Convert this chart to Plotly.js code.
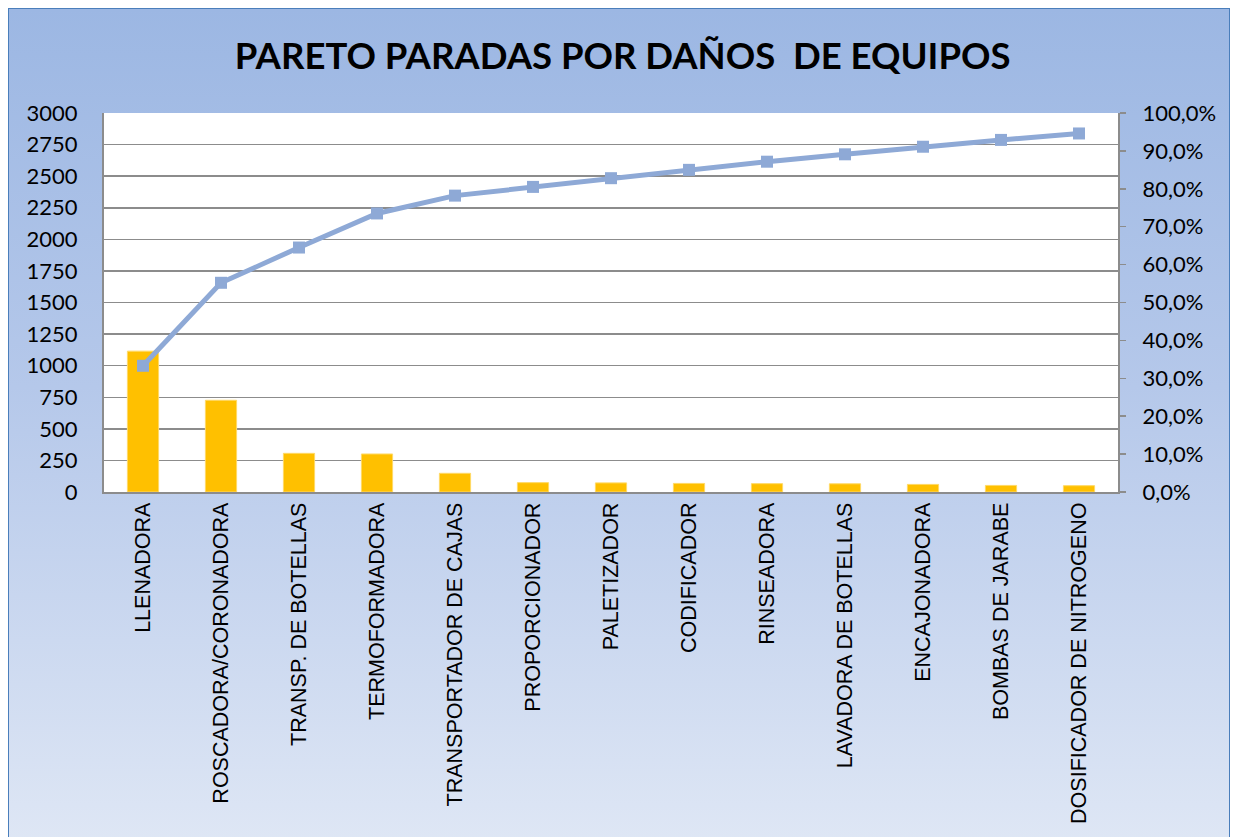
<!DOCTYPE html>
<html><head><meta charset="utf-8">
<script src="https://cdn.plot.ly/plotly-3.0.1.min.js"></script>
<style>
html,body{margin:0;padding:0;background:#fff;width:1238px;height:837px;overflow:hidden;}
#bg{position:absolute;left:8px;top:8px;width:1220px;height:840px;border:1px solid #4a7ebb;
background:linear-gradient(to bottom,#9cb7e3 0%,#b5c8ea 45%,#dfe7f5 100%);}
#chart{position:absolute;left:0;top:0;width:1238px;height:837px;}
</style></head>
<body><div id="bg"></div><div id="chart"></div>
<script>
const categories = ["LLENADORA","ROSCADORA/CORONADORA","TRANSP. DE BOTELLAS","TERMOFORMADORA","TRANSPORTADOR DE CAJAS","PROPORCIONADOR","PALETIZADOR","CODIFICADOR","RINSEADORA","LAVADORA DE BOTELLAS","ENCAJONADORA","BOMBAS DE JARABE","DOSIFICADOR DE NITROGENO"];
const paradas = [1115, 726, 306, 301, 148, 74, 72, 68, 66, 65, 60, 52, 50];
const acumulado = [0.333, 0.552, 0.645, 0.735, 0.782, 0.805, 0.828, 0.850, 0.8715, 0.891, 0.911, 0.929, 0.946];
const leftTicks = [0,250,500,750,1000,1250,1500,1750,2000,2250,2500,2750,3000];

const traces = [
 {type:'bar', x:categories, y:paradas, marker:{color:'#FFC000', line:{color:'#FFD966', width:1}}, hoverinfo:'x+y'},
 {type:'scatter', mode:'lines+markers', x:categories, y:acumulado, yaxis:'y2',
  line:{color:'#8EA9D6', width:5}, marker:{symbol:'square', size:12, color:'#8EA9D6'}}
];
const tickFont = {family:'Lato, "Open Sans", sans-serif', size:22, color:'#000'};
const layout = {
 width:1238, height:837,
 paper_bgcolor:'rgba(0,0,0,0)', plot_bgcolor:'#ffffff',
 margin:{l:104, r:120, t:113, b:345},
 showlegend:false,
 separators:',.',
 bargap:0.6,
 title:{text:'<b>PARETO PARADAS POR DAÑOS  DE EQUIPOS</b>', x:0.503, xanchor:'center', y:0.933, yanchor:'middle', yref:'container',
   font:{family:'Lato, "Open Sans", sans-serif', size:36.5, color:'#000'}},
 xaxis:{type:'category', range:[-0.5,12.5], tickangle:-90, tickfont:{family:'"Liberation Sans", Arial, sans-serif', size:21.5, color:'#000'},
   showline:true, linecolor:'#8c8c8c', linewidth:2, ticks:'', showgrid:false, automargin:false},
 yaxis:{range:[0,3000], tickvals:leftTicks, ticktext:leftTicks.map(String), tickfont:tickFont,
   showgrid:true, gridcolor:'#8c8c8c', gridwidth:1.5, showline:true, linecolor:'#8c8c8c', linewidth:2,
   ticks:'', ticklen:0, ticklabelstandoff:20, zeroline:false, automargin:false},
 yaxis2:{overlaying:'y', side:'right', range:[0,1], dtick:0.1, tickformat:'.1%', tickfont:tickFont,
   showgrid:false, showline:true, linecolor:'#8c8c8c', linewidth:2, ticks:'outside', ticklen:6, tickcolor:'#8c8c8c', tickwidth:1.5,
   ticklabelstandoff:12, zeroline:false, automargin:false}
};
Plotly.newPlot('chart', traces, layout, {displayModeBar:false, staticPlot:true});
</script></body></html>
